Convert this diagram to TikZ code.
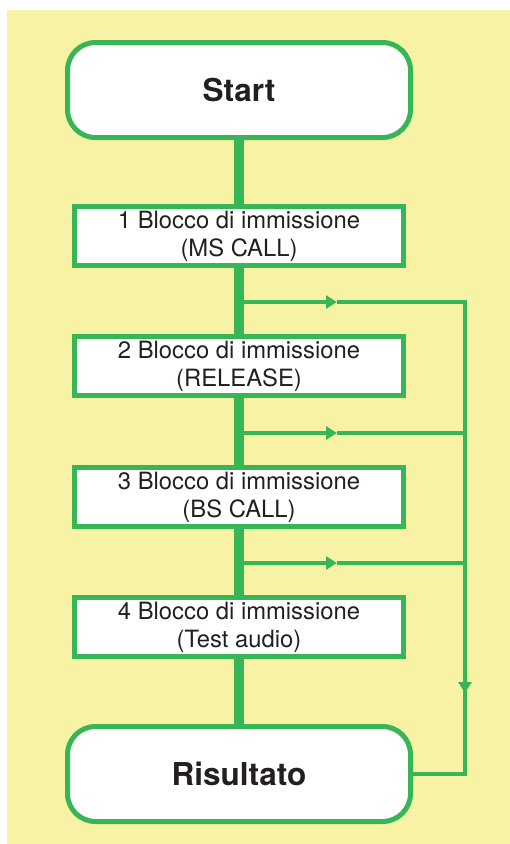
\documentclass[tikz,border=0pt]{standalone}
\usepackage{fontspec}
\setmainfont{TeX Gyre Heros}
\usepackage{tikz}
\usetikzlibrary{arrows.meta}

\definecolor{paper}{HTML}{F8F2A4}
\definecolor{leaf}{HTML}{36B657}
\definecolor{ink}{HTML}{231F20}

\begin{document}
\begin{tikzpicture}[x=1pt,y=-1pt,>={Triangle[length=11pt,width=13pt]},
                    text=ink]
  \tikzstyle{terminal}=[draw=leaf,fill=white,line width=5pt,rounded corners=28pt,
                        minimum width=343pt,minimum height=95pt,
                        font=\fontsize{31.5}{36}\selectfont\bfseries]
  \tikzstyle{block}=[draw=leaf,fill=white,line width=5pt,align=center,
                     minimum width=329pt,minimum height=59pt,inner sep=0pt,
                     font=\fontsize{23.8}{28}\selectfont]
  \tikzstyle{trunk}=[draw=leaf,line width=10pt]
  \tikzstyle{rail}=[draw=leaf,line width=4.5pt]

  % background
  \useasboundingbox (0,0) rectangle (510,844);
  \fill[paper] (7,10) rectangle (510,844);

  \node[terminal] (start) at (239,90)  {Start};
  \node[block]    (b1)    at (239,236) {1 Blocco di immissione\\(MS CALL)};
  \node[block]    (b2)    at (239,366) {2 Blocco di immissione\\(RELEASE)};
  \node[block]    (b3)    at (239,497) {3 Blocco di immissione\\(BS CALL)};
  \node[block]    (b4)    at (239,627) {4 Blocco di immissione\\(Test audio)};
  \node[terminal] (res)   at (239,774) {Risultato};

  % main line
  \draw[trunk] (start) -- (b1) (b1) -- (b2) (b2) -- (b3) (b3) -- (b4) (b4) -- (res);

  % junctions, arrow points and return line
  \coordinate (j1) at (239,302);
  \coordinate (j2) at (239,433);
  \coordinate (j3) at (239,563);
  \coordinate (a1) at (337,302);
  \coordinate (a2) at (337,433);
  \coordinate (a3) at (337,563);
  \coordinate (r1) at (465,302);
  \coordinate (r2) at (465,433);
  \coordinate (r3) at (465,563);
  \coordinate (ra) at (465,693);

  \draw[rail,line join=miter] (res.east) -| (r1) -- (a1);
  \draw[rail,->] (j1) -- (a1);
  \draw[rail,->] (j2) -- (a2);
  \draw[rail]    (a2) -- (r2);
  \draw[rail,->] (j3) -- (a3);
  \draw[rail]    (a3) -- (r3);
  \draw[rail,->] (r3) -- (ra);
\end{tikzpicture}
\end{document}
